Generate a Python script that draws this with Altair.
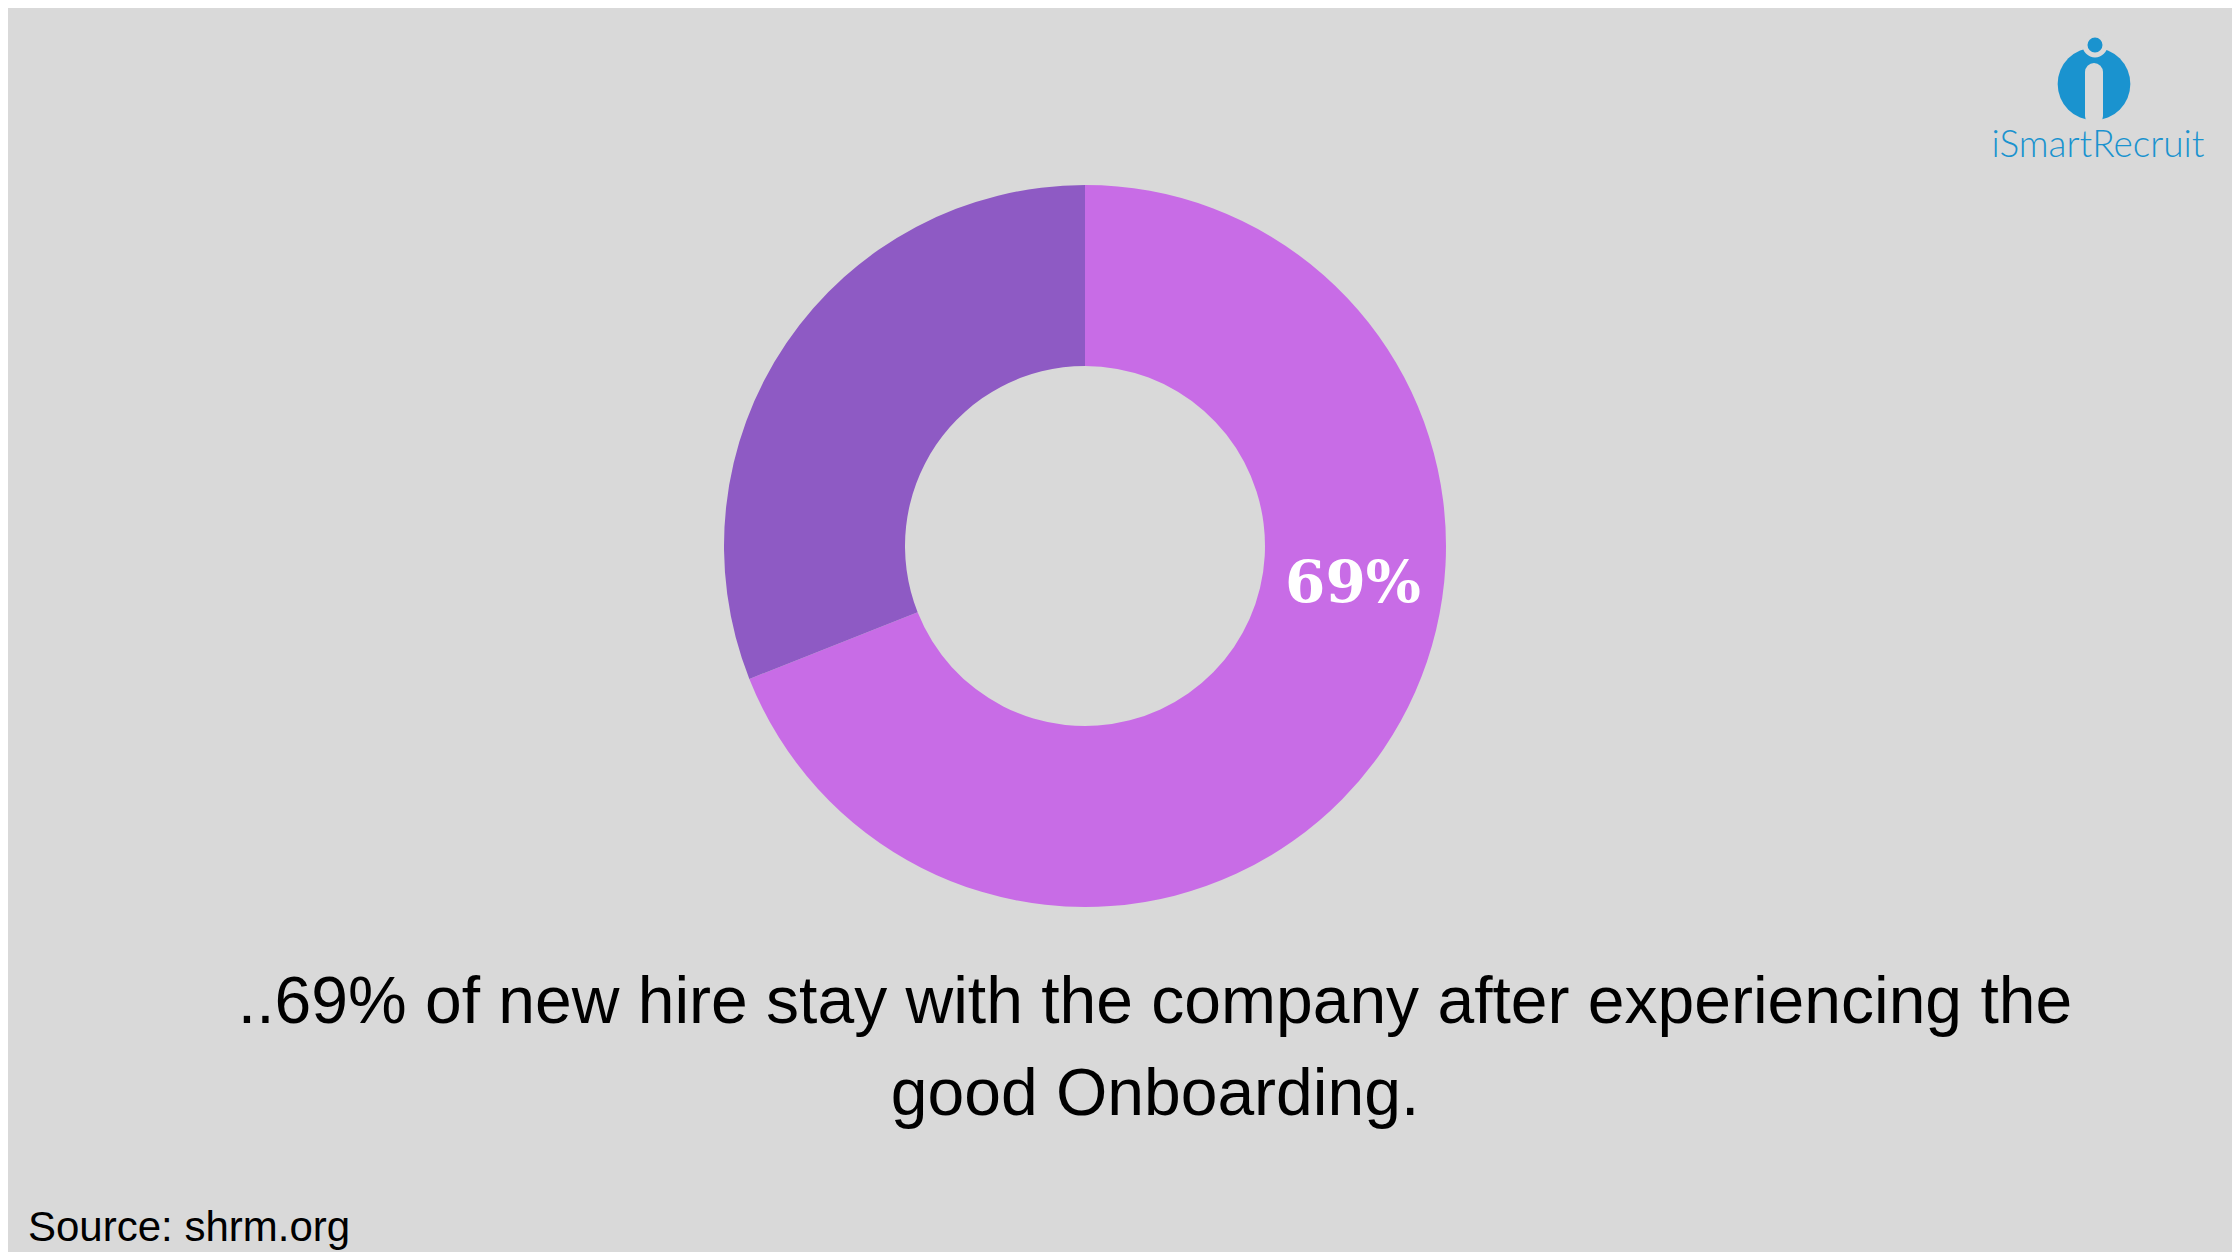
import altair as alt
import pandas as pd

# ---- data ----
categories = ["Stay after good onboarding", "Other"]
values = [69, 31]
slice_order = [0, 1]
colors = ["#c86ce6", "#8e5ac4"]
caption_lines = [
    "..69% of new hire stay with the company after experiencing the",
    "good Onboarding.",
]
source_text = "Source: shrm.org"
brand_text = "iSmartRecruit"

BG = "#d9d9d9"
BLUE = "#1a93cf"

df = pd.DataFrame({"category": categories, "value": values, "order": slice_order})

CX, CY = 1077, 538

donut = alt.Chart(df).mark_arc(outerRadius=361, innerRadius=180, stroke=None).encode(
    theta=alt.Theta("value:Q", stack=True),
    color=alt.Color("category:N", scale=alt.Scale(domain=categories, range=colors), legend=None),
    order=alt.Order("order:Q"),
    x=alt.value(CX),
    y=alt.value(CY),
)

label_df = pd.DataFrame({"label": [f"{values[0]}%"]})
label = alt.Chart(label_df).mark_text(
    font="DejaVu Serif", fontWeight="bold", fontSize=58, color="white",
    align="center", baseline="middle",
).encode(text="label:N", x=alt.value(1345), y=alt.value(577))

cap_df = pd.DataFrame({"t": ["\n".join(caption_lines)]})
caption = alt.Chart(cap_df).mark_text(
    font="Liberation Sans", fontSize=66, color="#000000", align="center",
    baseline="alphabetic", lineBreak="\n", lineHeight=92,
).encode(text="t:N", x=alt.value(1147), y=alt.value(1015))

src_df = pd.DataFrame({"t": [source_text]})
source = alt.Chart(src_df).mark_text(
    font="Liberation Sans", fontSize=42, color="#000000", align="left", baseline="alphabetic",
).encode(text="t:N", x=alt.value(20), y=alt.value(1233))

# ---- logo ----
logo_df = pd.DataFrame({"t": [brand_text]})
logo_circle = alt.Chart(logo_df).mark_point(
    shape="circle", filled=True, size=5281, color=BLUE, opacity=1, strokeWidth=0
).encode(x=alt.value(2086), y=alt.value(76))
logo_stem = alt.Chart(logo_df).mark_rule(
    color=BG, strokeWidth=18, strokeCap="round"
).encode(x=alt.value(2086), y=alt.value(64), y2=alt.value(108))
logo_dot = alt.Chart(logo_df).mark_point(
    shape="circle", filled=True, size=400, fill=BLUE, stroke=BG, strokeWidth=5, opacity=1
).encode(x=alt.value(2087), y=alt.value(37))
logo_text = alt.Chart(logo_df).mark_text(
    font="Lato", fontWeight=300, fontSize=37, color=BLUE, align="center", baseline="alphabetic",
).encode(text="t:N", x=alt.value(2090), y=alt.value(149))

chart = alt.layer(
    donut, label, caption, source, logo_circle, logo_stem, logo_dot, logo_text
).properties(
    width=2224, height=1244, background=BG, padding=0,
    autosize=alt.AutoSizeParams(type="none"),
).configure_view(stroke=None)

chart.save("out.html", embed_options={"renderer": "svg", "actions": False})
